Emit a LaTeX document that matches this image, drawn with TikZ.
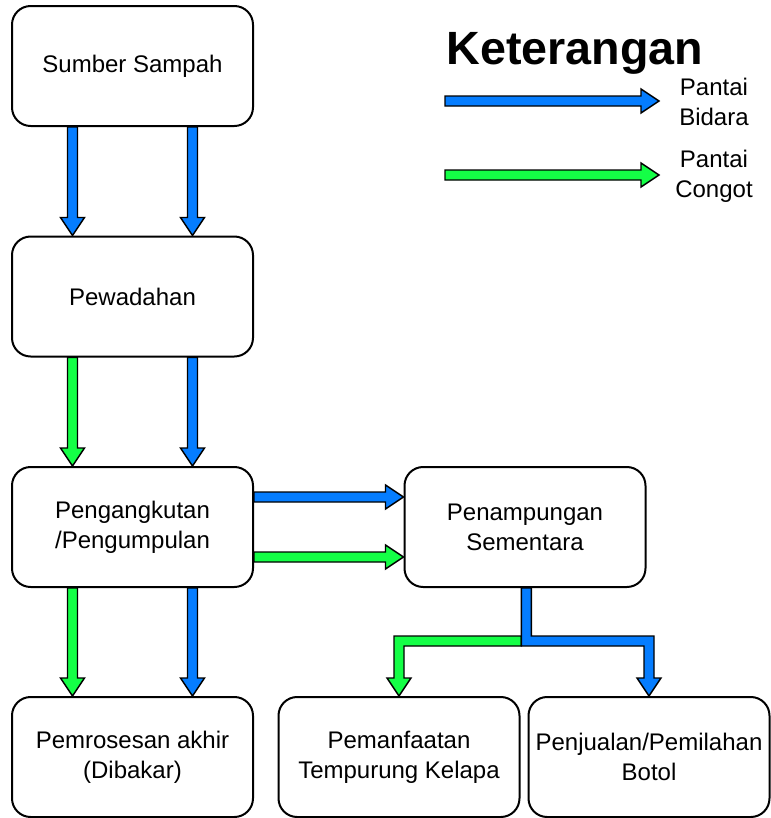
\documentclass[tikz,border=0pt]{standalone}
\usepackage{fontspec}
\setmainfont{Liberation Sans}
\usetikzlibrary{calc}
\definecolor{bidara}{RGB}{5,125,255}
\definecolor{congot}{RGB}{20,255,70}
\tikzset{
	box/.style={draw=black, line width=1.5pt, rounded corners=14pt, minimum width=180.75pt, minimum height=90pt, inner sep=2pt, align=center, font=\fontsize{18}{22.5}\selectfont},
	flowline/.style={draw=black, line width=1.1pt, line join=miter},
	legendtext/.style={align=center, font=\fontsize{18}{22.5}\selectfont}
}
% flat arrow going down / going right
\def\downflow[#1](#2)(#3){\draw[flowline, fill=#1] let \p1=(#2), \p2=(#3) in (\x1-3.75pt,\y1) -- (\x1-3.75pt,\y2+13.5pt) -- (\x1-9pt,\y2+13.5pt) -- (\x1,\y2) -- (\x1+9pt,\y2+13.5pt) -- (\x1+3.75pt,\y2+13.5pt) -- (\x1+3.75pt,\y1) -- cycle;}
\def\rightflow[#1](#2)(#3){\draw[flowline, fill=#1] let \p1=(#2), \p2=(#3) in (\x1,\y1+3.75pt) -- (\x2-13.5pt,\y1+3.75pt) -- (\x2-13.5pt,\y1+9pt) -- (\x2,\y1) -- (\x2-13.5pt,\y1-9pt) -- (\x2-13.5pt,\y1-3.75pt) -- (\x1,\y1-3.75pt) -- cycle;}

\begin{document}
\begin{tikzpicture}[x=0.75pt, y=-0.75pt]
		%%%%% START %%%%%
		\useasboundingbox (0,0) rectangle (771,818);
		
		\node[box] (sumber) at (132.5,66) {Sumber Sampah};
		\node[box] (wadah) at (132.5,296.5) {Pewadahan};
		\node[box] (angkut) at (132.5,527) {Pengangkutan\\/Pengumpulan};
		\node[box] (tampung) at (525,527) {Penampungan\\Sementara};
		\node[box] (akhir) at (132.5,757) {Pemrosesan akhir\\(Dibakar)};
		\node[box] (manfaat) at (399,757) {Pemanfaatan\\Tempurung Kelapa};
		\node[box] (jual) at (649,757) {Penjualan/Pemilahan\\Botol};
		
		% legenda
		\node[anchor=base, font=\fontsize{35}{40}\selectfont\bfseries] (ket) at (575,64) {Keterangan};
		\coordinate (lb1) at (445,101);
		\coordinate (lb2) at (659,101);
		\coordinate (lc1) at (445,175);
		\coordinate (lc2) at (659,175);
		\rightflow[bidara](lb1)(lb2);
		\rightflow[congot](lc1)(lc2);
		\node[legendtext] (lbtext) at (714,102) {Pantai\\Bidara};
		\node[legendtext] (lctext) at (714,176) {Pantai\\Congot};
		
		% alur
		\downflow[bidara]([xshift=-45pt]sumber.south)([xshift=-45pt]wadah.north);
		\downflow[bidara]([xshift=45pt]sumber.south)([xshift=45pt]wadah.north);
		\downflow[congot]([xshift=-45pt]wadah.south)([xshift=-45pt]angkut.north);
		\downflow[bidara]([xshift=45pt]wadah.south)([xshift=45pt]angkut.north);
		\downflow[congot]([xshift=-45pt]angkut.south)([xshift=-45pt]akhir.north);
		\downflow[bidara]([xshift=45pt]angkut.south)([xshift=45pt]akhir.north);
		
		\rightflow[bidara]([yshift=22.5pt]angkut.east)([yshift=22.5pt]tampung.west);
		\rightflow[congot]([yshift=-22.5pt]angkut.east)([yshift=-22.5pt]tampung.west);
		
		% cabang
		\draw[flowline, fill=congot] let \p1=([xshift=1pt]tampung.south), \p2=(manfaat.north) in (\x1-3.75pt,\y2+45pt) -- (\x2-3.75pt,\y2+45pt) -- (\x2-3.75pt,\y2+13.5pt) -- (\x2-9pt,\y2+13.5pt) -- (\x2,\y2) -- (\x2+9pt,\y2+13.5pt) -- (\x2+3.75pt,\y2+13.5pt) -- (\x2+3.75pt,\y2+37.5pt) -- (\x1-3.75pt,\y2+37.5pt) -- cycle;
		\draw[flowline, fill=bidara] let \p1=([xshift=1pt]tampung.south), \p3=(jual.north) in (\x1-3.75pt,\y1) -- (\x1-3.75pt,\y3+37.5pt) -- (\x3-3.75pt,\y3+37.5pt) -- (\x3-3.75pt,\y3+13.5pt) -- (\x3-9pt,\y3+13.5pt) -- (\x3,\y3) -- (\x3+9pt,\y3+13.5pt) -- (\x3+3.75pt,\y3+13.5pt) -- (\x3+3.75pt,\y3+45pt) -- (\x1+3.75pt,\y3+45pt) -- (\x1+3.75pt,\y1) -- cycle;
		
		%%%%% END %%%%%
	\end{tikzpicture}
\end{document}
